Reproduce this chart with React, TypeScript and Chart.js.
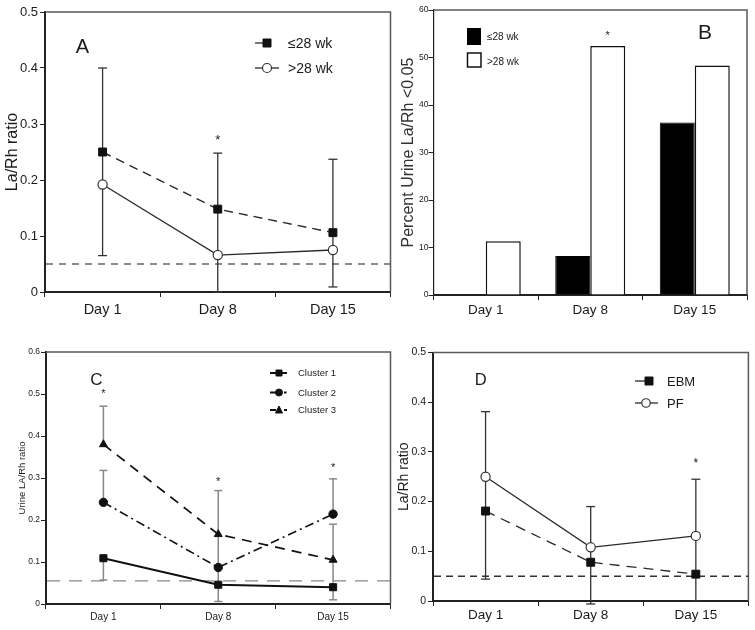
import React, { useEffect, useRef } from "react";
import { Chart, registerables } from "chart.js";

Chart.register(...registerables);

const FONT = '"Liberation Sans", Arial, Helvetica, sans-serif';
const TEXT = "#1b1b1b";
const AXIS = "#222";
const FRAME = "#5a5a5a";
const W = 755;
const H = 630;

const DAYS = ["Day 1", "Day 8", "Day 15"];
const THRESHOLD = 0.05;

// Panel A: La/Rh ratio by gestational age
const A_LE28 = [0.25, 0.148, 0.106];
const A_LE28_LOW = [0.192, 0.066, 0.075];
const A_LE28_HIGH = [0.4, 0.248, 0.237];
const A_GT28 = [0.192, 0.066, 0.075];
const A_GT28_LOW = [0.065, 0.0, 0.009];
const A_GT28_HIGH = [0.192, 0.066, 0.075];
const A_STARS = [null, 0.277, null];

// Panel B: percent urine La/Rh < 0.05
const B_LE28 = [0, 8.2, 36.3];
const B_GT28 = [11.3, 52.4, 48.3];
const B_STARS = [null, 55.2, null];

// Panel C: clusters
const C1 = [0.109, 0.046, 0.04];
const C1_LOW = [0.057, 0.006, 0.01];
const C1_HIGH = [0.109, 0.087, 0.105];
const C2 = [0.242, 0.087, 0.214];
const C2_LOW = [0.242, 0.087, 0.214];
const C2_HIGH = [0.318, 0.166, 0.298];
const C3 = [0.38, 0.166, 0.105];
const C3_LOW = [0.38, 0.166, 0.105];
const C3_HIGH = [0.471, 0.27, 0.19];
const C_STARS = [0.507, 0.299, 0.331];

// Panel D: EBM vs PF
const D_EBM = [0.181, 0.078, 0.054];
const D_EBM_LOW = [0.044, -0.006, 0];
const D_EBM_HIGH = [0.181, 0.108, 0.131];
const D_PF = [0.25, 0.108, 0.131];
const D_PF_LOW = [0.181, 0.108, 0.131];
const D_PF_HIGH = [0.381, 0.19, 0.245];
const D_STARS = [null, null, 0.283];

function capText(ctx: CanvasRenderingContext2D, text: string, x: number, y: number, size: number, align: CanvasTextAlign = "left", color = TEXT) {
  ctx.font = `${size}px ${FONT}`;
  ctx.fillStyle = color;
  ctx.textAlign = align;
  ctx.textBaseline = "alphabetic";
  ctx.fillText(text, x, y + size * 0.358);
}

function hline(ctx: CanvasRenderingContext2D, x0: number, x1: number, y: number, lw: number, color: string) {
  ctx.strokeStyle = color;
  ctx.lineWidth = lw;
  ctx.setLineDash([]);
  ctx.beginPath();
  ctx.moveTo(x0, y);
  ctx.lineTo(x1, y);
  ctx.stroke();
}

function marker(ctx: CanvasRenderingContext2D, kind: string, x: number, y: number, size: number, fill: string, stroke: string, lw = 1) {
  ctx.setLineDash([]);
  ctx.beginPath();
  if (kind === "rect") ctx.rect(x - size / 2, y - size / 2, size, size);
  else if (kind === "circle") ctx.arc(x, y, size / 2, 0, Math.PI * 2);
  else {
    ctx.moveTo(x, y - size / 2 - 0.5);
    ctx.lineTo(x + size / 2, y + size / 2 - 0.5);
    ctx.lineTo(x - size / 2, y + size / 2 - 0.5);
    ctx.closePath();
  }
  ctx.fillStyle = fill;
  ctx.fill();
  ctx.strokeStyle = stroke;
  ctx.lineWidth = lw;
  ctx.stroke();
}

type Err = { ds: number; low: number[]; high: number[] };
type Overlay = {
  errs: Err[];
  errColor: string;
  errWidth: number;
  capW: number;
  ref?: { value: number; dash: number[]; color: string; width: number };
  stars: (number | null)[];
  starDs: number;
  starSize: number;
  letter: [string, number, number, number];
  legend: (ctx: CanvasRenderingContext2D) => void;
};

function overlay(o: Overlay) {
  return {
    id: "overlay",
    beforeDatasetsDraw(chart: any) {
      const { ctx, chartArea: a } = chart;
      const ys = chart.scales.y;
      ctx.save();
      ctx.setLineDash([]);
      ctx.strokeStyle = FRAME;
      ctx.lineWidth = 1.5;
      ctx.beginPath();
      ctx.moveTo(a.left, a.top);
      ctx.lineTo(a.right, a.top);
      ctx.lineTo(a.right, a.bottom);
      ctx.stroke();
      if (o.ref) {
        const y = ys.getPixelForValue(o.ref.value);
        ctx.strokeStyle = o.ref.color;
        ctx.lineWidth = o.ref.width;
        ctx.setLineDash(o.ref.dash);
        ctx.beginPath();
        ctx.moveTo(a.left + 1, y);
        ctx.lineTo(a.right, y);
        ctx.stroke();
        ctx.setLineDash([]);
      }
      ctx.strokeStyle = o.errColor;
      ctx.lineWidth = o.errWidth;
      for (const e of o.errs) {
        const meta = chart.getDatasetMeta(e.ds);
        meta.data.forEach((pt: any, j: number) => {
          const lo = e.low[j];
          const hi = e.high[j];
          const all = chart.data.datasets.map((d: any) => d.data[j]);
          const x = pt.x;
          ctx.beginPath();
          ctx.moveTo(x, ys.getPixelForValue(lo));
          ctx.lineTo(x, ys.getPixelForValue(hi));
          ctx.stroke();
          for (const v of [lo, hi]) {
            if (all.some((w: number) => Math.abs(w - v) < 1e-9)) continue;
            const yy = ys.getPixelForValue(v);
            ctx.beginPath();
            ctx.moveTo(x - o.capW / 2, yy);
            ctx.lineTo(x + o.capW / 2, yy);
            ctx.stroke();
          }
        });
      }
      ctx.restore();
    },
    afterDatasetsDraw(chart: any) {
      const { ctx } = chart;
      const ys = chart.scales.y;
      ctx.save();
      const meta = chart.getDatasetMeta(o.starDs);
      o.stars.forEach((v, j) => {
        if (v == null) return;
        const x = meta.data[j].x;
        const y = ys.getPixelForValue(v);
        ctx.font = `${o.starSize}px ${FONT}`;
        ctx.fillStyle = TEXT;
        ctx.textAlign = "center";
        ctx.textBaseline = "alphabetic";
        ctx.fillText("*", x, y + o.starSize * 0.57);
      });
      const [t, lx, ly, ls] = o.letter;
      capText(ctx, t, lx, ly, ls, "center");
      o.legend(ctx);
      ctx.restore();
    },
  };
}

type AxOpts = {
  yMax: number; yStep: number; yTickSize: number; yW: number; yPad: number; yBorder: number;
  title: string; titleSize: number; titlePad: number; titleColor?: string;
  xSize: number; xH: number; xPad: number; xBorder: number;
};

function scales(o: AxOpts) {
  return {
    x: {
      type: "category",
      offset: true,
      grid: { offset: true, drawOnChartArea: false, drawTicks: true, tickLength: 5, color: AXIS, lineWidth: 1 },
      border: { display: true, color: AXIS, width: o.xBorder },
      ticks: { font: { family: FONT, size: o.xSize }, color: TEXT, padding: o.xPad, maxRotation: 0, autoSkip: false },
      afterFit: (s: any) => { s.height = o.xH; },
    },
    y: {
      min: 0,
      max: o.yMax,
      ticks: { stepSize: o.yStep, font: { family: FONT, size: o.yTickSize }, color: TEXT, padding: o.yPad },
      grid: { drawOnChartArea: false, drawTicks: true, tickLength: 5, color: AXIS, lineWidth: 1 },
      border: { display: true, color: AXIS, width: o.yBorder },
      title: {
        display: true, text: o.title,
        font: { family: FONT, size: o.titleSize },
        color: o.titleColor ?? TEXT,
        padding: { top: o.titlePad, bottom: 0 },
      },
      afterFit: (s: any) => { s.width = o.yW; },
    },
  };
}

function baseOptions(pad: { left: number; top: number; right: number; bottom: number }, sc: any) {
  return {
    responsive: false,
    animation: false,
    devicePixelRatio: 1,
    layout: { padding: pad },
    plugins: { legend: { display: false }, tooltip: { enabled: false }, title: { display: false } },
    scales: sc,
  };
}

function configA(): any {
  return {
    type: "line",
    data: {
      labels: DAYS,
      datasets: [
        {
          label: "≤28 wk", data: A_LE28, borderColor: "#2a2a2a", borderWidth: 1.4, borderDash: [9, 6],
          pointStyle: "rect", pointRadius: 5.6, pointBackgroundColor: "#111", pointBorderColor: "#111", pointBorderWidth: 1,
        },
        {
          label: ">28 wk", data: A_GT28, borderColor: "#2a2a2a", borderWidth: 1.3,
          pointStyle: "circle", pointRadius: 4.6, pointBackgroundColor: "#fff", pointBorderColor: "#333", pointBorderWidth: 1.2,
        },
      ],
    },
    options: baseOptions(
      { left: 0, top: 12, right: W - 390.5, bottom: H - 292 - 30 },
      scales({ yMax: 0.5, yStep: 0.1, yTickSize: 13, yW: 45, yPad: 2, yBorder: 2, title: "La/Rh ratio", titleSize: 16, titlePad: 3, xSize: 14.5, xH: 30, xPad: 4, xBorder: 2 })
    ),
    plugins: [
      overlay({
        errs: [
          { ds: 0, low: A_LE28_LOW, high: A_LE28_HIGH },
          { ds: 1, low: A_GT28_LOW, high: A_GT28_HIGH },
        ],
        errColor: "#333", errWidth: 1.3, capW: 9,
        ref: { value: THRESHOLD, dash: [7, 6], color: "#666", width: 1.5 },
        stars: A_STARS, starDs: 0, starSize: 13,
        letter: ["A", 82.5, 46, 20],
        legend: (ctx) => {
          hline(ctx, 255, 263, 43, 1.3, "#2a2a2a");
          marker(ctx, "rect", 267, 43, 8, "#111", "#111");
          capText(ctx, "≤28 wk", 288, 43, 14);
          hline(ctx, 255, 279, 68, 1.3, "#2a2a2a");
          marker(ctx, "circle", 267, 68, 9, "#fff", "#333", 1.2);
          capText(ctx, ">28 wk", 288, 68, 14);
        },
      }),
    ],
  };
}

function configB(): any {
  return {
    type: "bar",
    data: {
      labels: DAYS,
      datasets: [
        { label: "≤28 wk", data: B_LE28, backgroundColor: "#000", borderColor: "#000", borderWidth: 1, categoryPercentage: 0.67, barPercentage: 1 },
        { label: ">28 wk", data: B_GT28, backgroundColor: "#fff", borderColor: "#111", borderWidth: 1.5, categoryPercentage: 0.67, barPercentage: 1 },
      ],
    },
    options: baseOptions(
      { left: 396.4, top: 10, right: W - 747, bottom: H - 295 - 30 },
      scales({ yMax: 60, yStep: 10, yTickSize: 8.5, yW: 37.1, yPad: 0, yBorder: 1.2, title: "Percent Urine La/Rh <0.05", titleSize: 16, titlePad: 3, titleColor: "#333", xSize: 13.5, xH: 30, xPad: 2, xBorder: 2 })
    ),
    plugins: [
      overlay({
        errs: [],
        errColor: "#333", errWidth: 1, capW: 0,
        stars: B_STARS, starDs: 1, starSize: 11,
        letter: ["B", 705, 31, 21],
        legend: (ctx) => {
          ctx.fillStyle = "#000";
          ctx.fillRect(467, 28, 14, 17);
          ctx.fillStyle = "#fff";
          ctx.fillRect(467.5, 53, 13.5, 14);
          ctx.strokeStyle = "#111";
          ctx.lineWidth = 1.5;
          ctx.strokeRect(467.5, 53, 13.5, 14);
          capText(ctx, "≤28 wk", 487, 36, 10);
          capText(ctx, ">28 wk", 487, 61, 10);
        },
      }),
    ],
  };
}

function configC(): any {
  const common = { pointBorderWidth: 1, borderColor: "#111" };
  return {
    type: "line",
    data: {
      labels: DAYS,
      datasets: [
        { ...common, label: "Cluster 1", data: C1, borderWidth: 2, pointStyle: "rect", pointRadius: 5, pointBackgroundColor: "#111", pointBorderColor: "#111" },
        { ...common, label: "Cluster 2", data: C2, borderWidth: 1.6, borderDash: [9, 4, 2, 4], pointStyle: "circle", pointRadius: 4.2, pointBackgroundColor: "#111", pointBorderColor: "#111" },
        { ...common, label: "Cluster 3", data: C3, borderWidth: 1.7, borderDash: [10, 7], pointStyle: "triangle", pointRadius: 4.6, pointBackgroundColor: "#111", pointBorderColor: "#111" },
      ],
    },
    options: baseOptions(
      { left: 0, top: 352, right: W - 390.5, bottom: H - 604 - 22 },
      scales({ yMax: 0.6, yStep: 0.1, yTickSize: 8.5, yW: 46, yPad: 1, yBorder: 2, title: "Urine LA/Rh ratio", titleSize: 9.5, titlePad: 16.3, xSize: 10, xH: 22, xPad: 2, xBorder: 2 })
    ),
    plugins: [
      overlay({
        errs: [
          { ds: 0, low: C1_LOW, high: C1_HIGH },
          { ds: 1, low: C2_LOW, high: C2_HIGH },
          { ds: 2, low: C3_LOW, high: C3_HIGH },
        ],
        errColor: "#888", errWidth: 1.5, capW: 8,
        ref: { value: 0.055, dash: [13, 9], color: "#888", width: 1.4 },
        stars: C_STARS, starDs: 0, starSize: 11,
        letter: ["C", 96.5, 379, 17],
        legend: (ctx) => {
          hline(ctx, 270, 287, 373, 2, "#111");
          marker(ctx, "rect", 279, 373, 6, "#111", "#111");
          capText(ctx, "Cluster 1", 298, 373, 9.5);
          hline(ctx, 270, 279, 392.5, 2, "#111");
          marker(ctx, "circle", 279, 392.5, 7, "#111", "#111");
          hline(ctx, 284, 286.5, 392.5, 2, "#111");
          capText(ctx, "Cluster 2", 298, 392.5, 9.5);
          hline(ctx, 270, 276, 410, 2, "#111");
          marker(ctx, "tri", 279, 410, 7, "#111", "#111");
          hline(ctx, 284, 287, 410, 2, "#111");
          capText(ctx, "Cluster 3", 298, 410, 9.5);
        },
      }),
    ],
  };
}

function configD(): any {
  return {
    type: "line",
    data: {
      labels: DAYS,
      datasets: [
        {
          label: "EBM", data: D_EBM, borderColor: "#2a2a2a", borderWidth: 1.3, borderDash: [10, 7],
          pointStyle: "rect", pointRadius: 5.6, pointBackgroundColor: "#111", pointBorderColor: "#111", pointBorderWidth: 1,
        },
        {
          label: "PF", data: D_PF, borderColor: "#2a2a2a", borderWidth: 1.3,
          pointStyle: "circle", pointRadius: 4.6, pointBackgroundColor: "#fff", pointBorderColor: "#333", pointBorderWidth: 1.2,
        },
      ],
    },
    options: baseOptions(
      { left: 392.6, top: 352.5, right: W - 750, bottom: H - 601 - 26 },
      scales({ yMax: 0.5, yStep: 0.1, yTickSize: 10.5, yW: 40.4, yPad: 2, yBorder: 2, title: "La/Rh ratio", titleSize: 14, titlePad: 3, xSize: 13.5, xH: 26, xPad: 1, xBorder: 2 })
    ),
    plugins: [
      overlay({
        errs: [
          { ds: 0, low: D_EBM_LOW, high: D_EBM_HIGH },
          { ds: 1, low: D_PF_LOW, high: D_PF_HIGH },
        ],
        errColor: "#333", errWidth: 1.3, capW: 9,
        ref: { value: THRESHOLD, dash: [7, 5], color: "#333", width: 1.5 },
        stars: D_STARS, starDs: 1, starSize: 12,
        letter: ["D", 480.7, 379, 16.5],
        legend: (ctx) => {
          hline(ctx, 635, 645, 381, 1.3, "#2a2a2a");
          marker(ctx, "rect", 649, 381, 8, "#111", "#111");
          capText(ctx, "EBM", 667, 381, 13);
          hline(ctx, 635, 658, 403, 1.3, "#2a2a2a");
          marker(ctx, "circle", 646, 403, 8.5, "#fff", "#333", 1.2);
          capText(ctx, "PF", 667, 403, 13);
        },
      }),
    ],
  };
}

export default function App() {
  const refA = useRef<HTMLCanvasElement>(null);
  const refB = useRef<HTMLCanvasElement>(null);
  const refC = useRef<HTMLCanvasElement>(null);
  const refD = useRef<HTMLCanvasElement>(null);

  useEffect(() => {
    const charts: Chart[] = [];
    const pairs: [React.RefObject<HTMLCanvasElement>, () => any][] = [
      [refA, configA],
      [refB, configB],
      [refC, configC],
      [refD, configD],
    ];
    for (const [r, make] of pairs) {
      if (r.current) charts.push(new Chart(r.current, make()));
    }
    return () => charts.forEach((c) => c.destroy());
  }, []);

  const style: React.CSSProperties = { position: "absolute", left: 0, top: 0, width: W, height: H };
  return (
    <div style={{ position: "absolute", left: 0, top: 0, width: W, height: H, background: "#fff" }}>
      <canvas ref={refA} width={W} height={H} style={style} />
      <canvas ref={refB} width={W} height={H} style={style} />
      <canvas ref={refC} width={W} height={H} style={style} />
      <canvas ref={refD} width={W} height={H} style={style} />
    </div>
  );
}
